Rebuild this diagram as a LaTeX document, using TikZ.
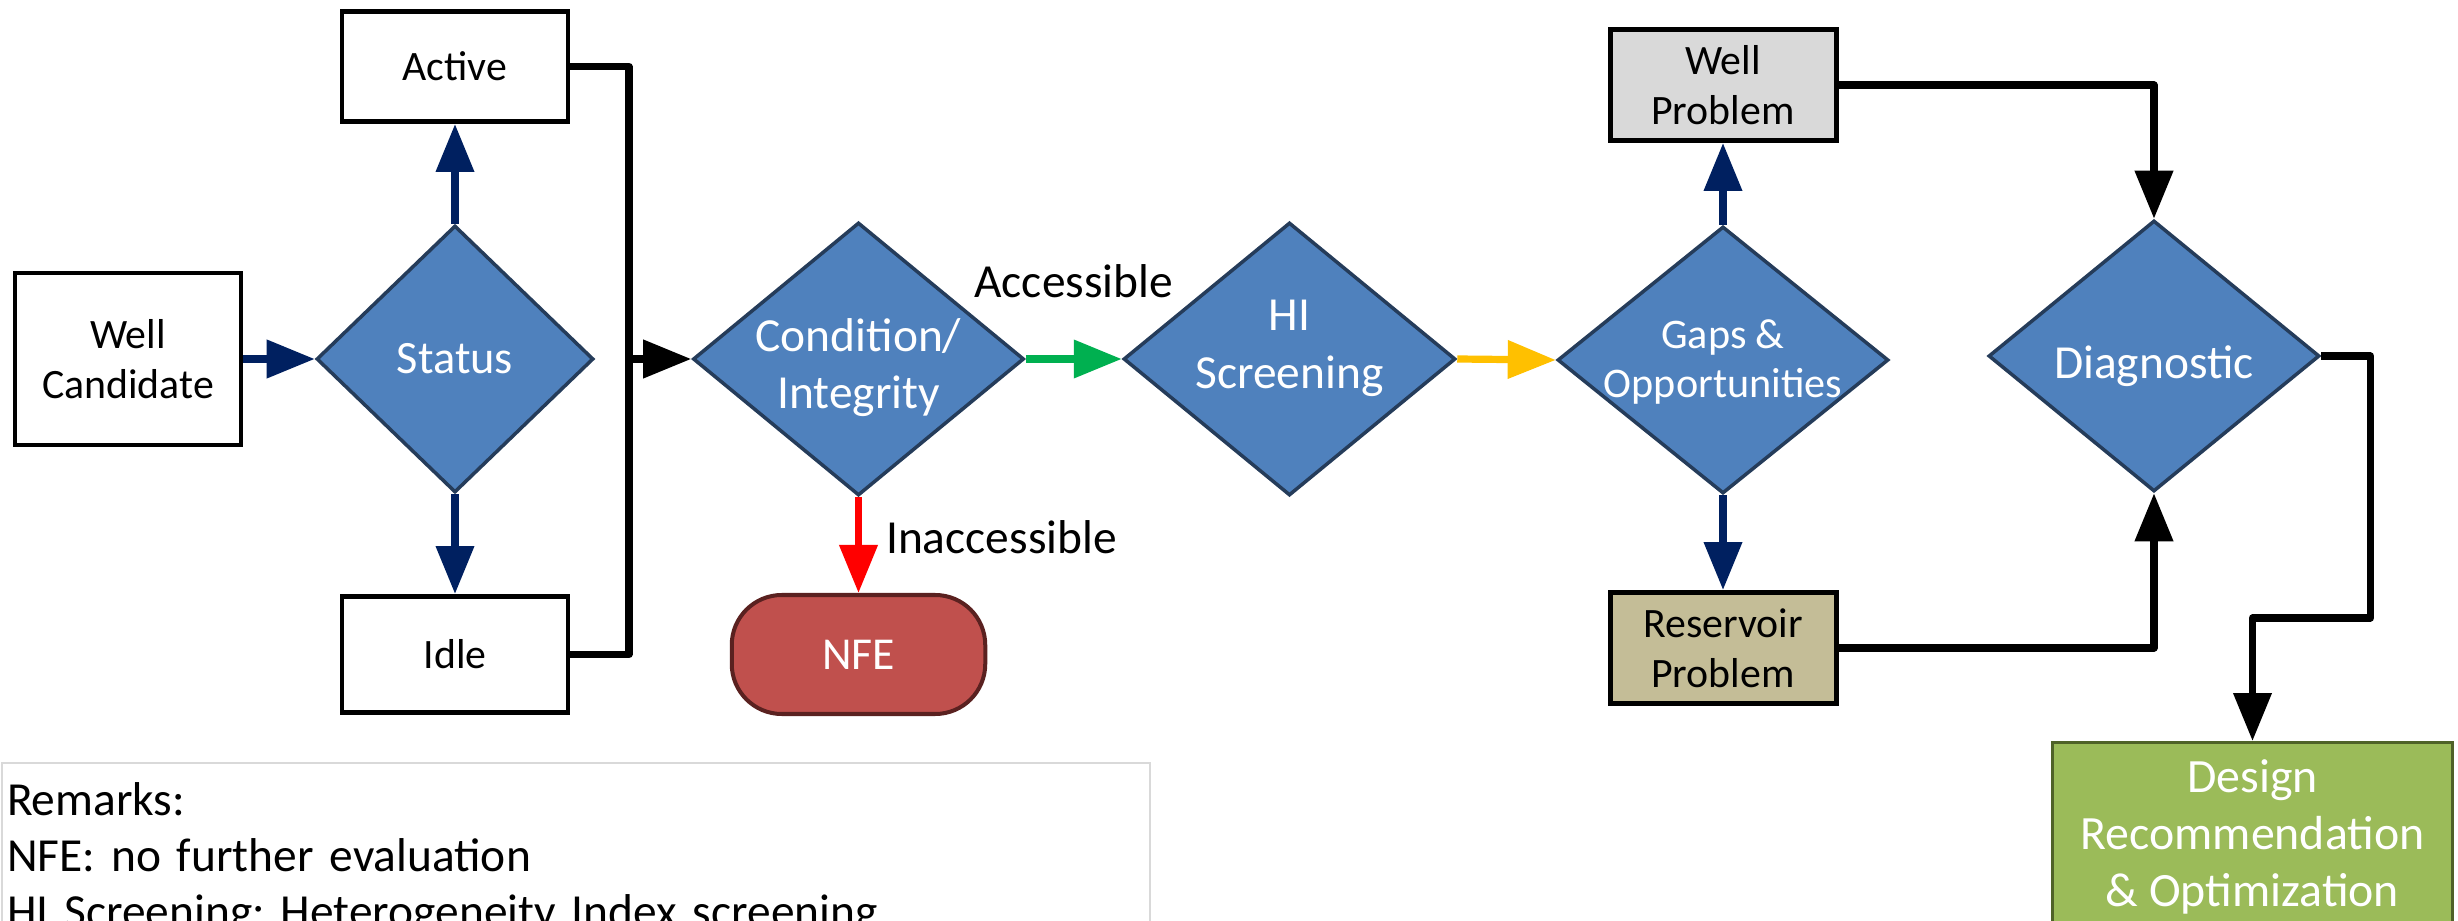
\documentclass[tikz,border=0pt]{standalone}
\usepackage{fontspec}
\setmainfont{Carlito}
\usepackage{tikz}
\usetikzlibrary{arrows.meta, shapes, positioning}
\definecolor{blue1}{RGB}{79,129,189}
\definecolor{blueline}{RGB}{37,60,90}
\definecolor{navy1}{RGB}{0,32,96}
\definecolor{green1}{RGB}{0,176,80}
\definecolor{yellow1}{RGB}{255,192,0}
\definecolor{red1}{RGB}{255,0,0}
\definecolor{rose1}{RGB}{192,80,77}
\definecolor{maroon1}{RGB}{90,33,32}
\definecolor{grey1}{RGB}{217,217,217}
\definecolor{tan1}{RGB}{196,189,151}
\definecolor{olive1}{RGB}{155,187,89}
\definecolor{olivedark}{RGB}{79,98,40}
\frenchspacing

\begin{document}
\begin{tikzpicture}[
    box/.style={draw=black, line width=1.42pt, minimum width=2.26cm, inner sep=0pt, align=center, font=\fontsize{11.9}{14.2}\selectfont},
    decision/.style={diamond, draw=blueline, fill=blue1, line width=1pt, inner sep=0pt},
    dtext/.style={text=white, align=center, inner sep=0pt, font=\fontsize{13.5}{16.2}\selectfont},
    terminal/.style={draw=maroon1, fill=rose1, line width=1.14pt, rounded corners=0.5cm, minimum width=2.535cm, minimum height=1.19cm, text=white, font=\fontsize{13}{15.6}\selectfont},
    result/.style={draw=olivedark, fill=olive1, line width=0.95pt, minimum width=4cm, inner ysep=0.17cm, align=center, text=white, font=\fontsize{13.6}{16.2}\selectfont},
    remarks/.style={draw=grey1, line width=0.57pt, text width=11.38cm, inner xsep=0.05cm, inner ysep=0.2cm, align=left, font=\fontsize{13.5}{16}\selectfont},
    lbl/.style={inner sep=0pt, font=\fontsize{13.5}{16.2}\selectfont},
    arr/.style={-{Triangle[length=0.48cm, width=0.37cm]}, line width=2.05pt, line join=round},
    flowline/.style={line width=2.05pt, line join=round}
]
        \useasboundingbox (0,0) rectangle (24.58,-9.21);

        \node[box, minimum height=1.72cm, name=cand] at(1.28,-3.59) {Well\\Candidate};
        \node[box, minimum height=1.10cm, name=active] at(4.55,-0.665) {Active};
        \node[box, minimum height=1.16cm, name=idle] at(4.55,-6.545) {Idle};
        \node[decision, minimum width=2.77cm, minimum height=2.67cm, name=status,
            label={[dtext, font=\fontsize{13.2}{15.8}\selectfont]center:Status}] at(4.55,-3.59) {};

        \node[decision, minimum width=3.31cm, minimum height=2.73cm, name=cond,
            label={[dtext, yshift=-0.09cm]center:{Condition/\\Integrity}}] at(8.585,-3.59) {};
        \node[decision, minimum width=3.32cm, minimum height=2.73cm, name=hi,
            label={[dtext, yshift=0.11cm, font=\fontsize{13.5}{16.5}\selectfont]center:{HI\\Screening}}] at(12.895,-3.59) {};
        \node[terminal, name=nfe] at(8.585,-6.545) {NFE};

        \node[decision, minimum width=3.31cm, minimum height=2.67cm, name=gaps,
            label={[dtext, yshift=-0.02cm, font=\fontsize{12}{14.2}\selectfont]center:{Gaps \&\\Opportunities}}] at(17.23,-3.6) {};
        \node[box, fill=grey1, minimum height=1.11cm, name=wellprob] at(17.23,-0.85) {Well\\Problem};
        \node[box, fill=tan1, minimum height=1.11cm, name=resprob] at(17.23,-6.48) {Reservoir\\Problem};

        \node[decision, minimum width=3.31cm, minimum height=2.71cm, name=diag,
            label={[dtext, yshift=-0.1cm]center:Diagnostic}] at(21.54,-3.56) {};
        \node[result, anchor=north, name=design] at(22.525,-7.41) {Design\\Recommendation\\\& Optimization};

        \node[remarks, anchor=north west, name=notes] at(0.01,-7.615) {Remarks:\\NFE: no further evaluation\\HI Screening: Heterogeneity Index screening};

        \coordinate (join) at(6.29,-3.59);
        \coordinate (bend) at(23.705,-6.18);

        \draw[arr, navy1] (cand.east) -- (status.west);
        \draw[arr, navy1] (status.north) -- (active.south);
        \draw[arr, navy1] (status.south) -- (idle.north);
        \draw[flowline] (active.east) -| (join) |- (idle.east);
        \draw[arr] (join) -- (cond.west);

        \draw[arr, green1] (cond.east) -- node[lbl, anchor=base, yshift=0.615cm, text=black] {Accessible} (hi.west);
        \draw[arr, red1] (cond.south) -- node[lbl, pos=0.59, anchor=base west, xshift=0.24cm, text=black] {Inaccessible} (nfe.north);
        \draw[arr, yellow1] (hi.east) -- (gaps.west);

        \draw[arr, navy1] (gaps.north) -- (wellprob.south);
        \draw[arr, navy1] (gaps.south) -- (resprob.north);
        \draw[arr] (wellprob.east) -| (diag.north);
        \draw[arr] (resprob.east) -| (diag.south);
        \draw[arr] (diag.east) -| (bend) -| (design.north);
\end{tikzpicture}
\end{document}
